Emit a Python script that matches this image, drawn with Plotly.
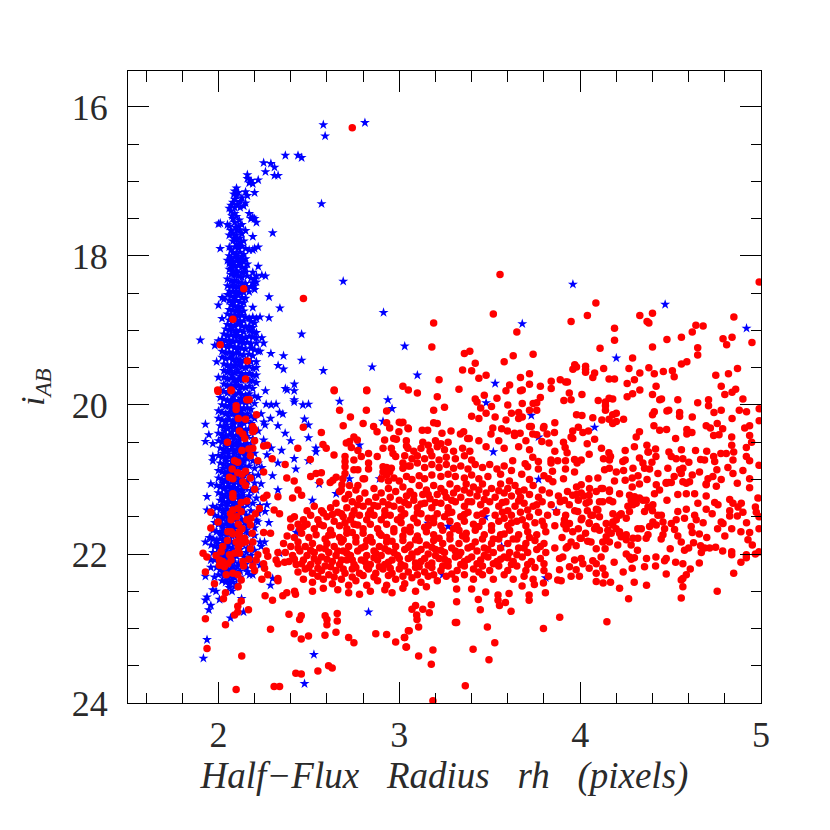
"""Half-flux radius vs i magnitude: stellar locus (blue stars) and galaxies (red dots)."""

import plotly.graph_objects as go

# ── Values, as (rh, i_AB) ─────────────────────────────────────────────────────

stars_sparse = [
    (2.58,16.24),(2.59,16.39),(2.81,16.21),(2.37,16.65),(2.44,16.65),(2.46,16.68),(2.25,16.75),(2.29,16.76),
    (2.31,16.81),(2.26,16.87),(2.31,16.92),(2.33,16.92),(2.57,17.30),(2.30,17.69),(2.22,17.88),(2.22,18.14),
    (2.26,18.27),(2.69,18.34),(2.28,18.55),(2.02,18.56),(2.00,18.66),(2.19,18.69),(2.34,18.70),(2.02,18.84),
    (2.23,18.82),(2.28,18.83),(2.46,19.05),(1.90,19.13),(2.00,19.14),(1.98,19.20),(2.24,19.10),(2.25,19.17),
    (2.23,19.28),(2.29,19.31),(2.36,19.34),(2.46,19.40),(1.99,19.42),(2.33,19.47),(2.36,19.52),(2.58,19.54),
    (2.00,19.63),(2.42,19.72),(2.37,19.78),(1.928,20.26),(1.947,20.40),(1.928,20.49),(1.969,20.52),(1.969,20.69),
    (1.969,20.75),(1.958,21.06),(1.937,21.23),(1.969,21.36),(1.937,21.41),(1.928,21.84),(1.958,21.79),(1.958,22.08),
    (1.958,22.18),(1.928,22.30),(1.978,22.31),(2.02,22.36),(1.969,22.48),(1.987,22.50),(1.937,22.58),(1.928,22.62),
    (2.006,22.61),(1.958,22.69),(1.947,22.75),(2.067,22.86),(2.139,22.78),(2.128,22.60),(1.937,23.15),(1.917,23.40),
    (2.528,23.35),(2.476,23.74),(2.83,22.78),(2.26,19.81),(2.38,19.80),(2.419,19.81),(2.419,19.93),(2.419,19.96),
    (2.264,19.99),(2.292,20.00),(2.319,19.99),(2.467,20.00),(2.498,19.99),(2.67,19.95),(2.937,19.93),(2.96,20.05),
    (2.338,20.10),(2.356,20.12),(2.236,20.12),(2.288,20.18),(2.476,20.19),(2.251,20.23),(2.258,20.27),(2.329,20.28),
    (2.498,20.27),(2.369,20.38),(2.498,20.44),(2.399,20.48),(2.25,20.47),(2.292,20.58),(2.349,20.61),(2.539,20.58),
    (2.539,20.63),(2.268,20.67),(2.329,20.78),(2.419,20.72),(2.498,20.75),(2.428,20.86),(2.299,20.95),(2.236,21.06),
    (2.329,21.14),(2.519,21.28),(2.651,21.19),(2.557,21.06),(2.268,21.34),(2.258,21.43),(2.218,21.57),(2.279,21.58),
    (2.43,21.71),(2.255,21.84),(2.236,21.90),(2.338,21.99),(2.288,22.42),(2.30,22.33),(2.19,22.28),(2.172,22.28),
    (2.91,20.22),(2.78,20.54),(2.891,20.99),(2.725,20.99),(3.03,19.21),(3.10,19.60),(3.68,18.91),(3.96,18.38),
    (4.47,18.65),(4.92,18.97),(4.20,19.37),(3.53,19.71),(3.48,19.97),(3.73,20.14),(4.08,20.30),(3.77,20.43),
    (3.52,20.63),(3.77,21.00),(3.16,21.59),(3.27,21.63),(3.476,21.50),(3.867,21.42),(3.566,21.90),(3.24,22.28),
    (3.81,22.32),(2.913,18.76),(2.85,19.49),
]

stars_locus_bright = [
    (2.16,16.91),(2.16,16.96),(2.17,17.02),(2.19,17.03),(2.18,16.99),(2.22,16.98),(2.10,17.09),(2.09,17.13),
    (2.11,17.15),(2.10,17.19),(2.09,17.24),(2.08,17.28),(2.15,17.14),(2.20,17.15),(2.16,17.19),(2.13,17.22),
    (2.12,17.27),(2.15,17.29),(2.06,17.36),(2.07,17.32),(2.09,17.35),(2.12,17.35),(2.14,17.33),(2.07,17.40),
    (2.09,17.43),(2.10,17.47),(2.08,17.50),(2.17,17.43),(2.18,17.50),(2.20,17.50),(2.21,17.55),(2.19,17.48),
    (2.00,17.57),(2.01,17.56),(2.05,17.58),(2.06,17.60),(2.09,17.55),(2.11,17.60),(2.13,17.58),(2.10,17.65),
    (2.12,17.65),(2.07,17.66),(2.06,17.72),(2.08,17.70),(2.10,17.72),(2.13,17.70),(2.15,17.66),(2.19,17.74),
    (2.10,17.78),(2.12,17.76),(2.08,17.80),(2.10,17.84),(2.12,17.82),(2.14,17.80),(2.01,17.90),(2.06,17.88),
    (2.07,17.92),(2.09,17.88),(2.11,17.90),(2.13,17.87),(2.15,17.90),(2.17,17.92),(2.19,17.92),(2.20,17.90),
    (2.08,17.95),(2.10,17.97),(2.12,17.95),(2.14,17.98),(2.06,18.00),(2.07,18.04),(2.09,18.02),(2.11,18.03),
    (2.13,18.01),(2.15,18.04),(2.05,18.06),(2.06,18.10),(2.08,18.08),(2.10,18.07),(2.12,18.09),(2.14,18.08),
    (2.16,18.11),(2.07,18.13),(2.09,18.14),(2.11,18.13),(2.13,18.15),(2.15,18.16),(2.06,18.18),(2.08,18.20),
    (2.10,18.20),(2.13,18.22),(2.15,18.22),(2.19,18.22),(2.21,18.27),(2.24,18.26),(2.07,18.25),(2.09,18.26),
    (2.11,18.27),(2.13,18.29),(2.16,18.27),(2.18,18.30),(2.20,18.31),(2.05,18.31),(2.07,18.34),(2.09,18.33),
    (2.11,18.35),(2.13,18.36),(2.15,18.37),(2.19,18.36),(2.21,18.35),(2.05,18.40),(2.07,18.41),(2.09,18.42),
    (2.11,18.41),(2.13,18.43),(2.16,18.43),(2.18,18.41),(2.20,18.40),(2.06,18.47),(2.08,18.48),(2.10,18.47),
    (2.12,18.49),(2.14,18.49),(2.17,18.48),(2.20,18.45),(2.05,18.52),(2.07,18.54),(2.09,18.55),(2.11,18.53),
    (2.13,18.56),(2.15,18.57),(2.03,18.58),(2.06,18.60),(2.08,18.61),(2.10,18.60),(2.12,18.62),(2.14,18.63),
]

stars_locus_mid = [
    (2.07,18.66),(2.09,18.67),(2.11,18.68),(2.13,18.69),(2.06,18.72),(2.08,18.73),(2.10,18.74),(2.12,18.75),
    (2.14,18.74),(2.05,18.78),(2.07,18.80),(2.09,18.79),(2.11,18.81),(2.13,18.80),(2.15,18.82),(2.17,18.84),
    (2.19,18.82),(2.21,18.84),(2.06,18.86),(2.08,18.87),(2.10,18.86),(2.12,18.88),(2.14,18.87),(2.18,18.88),
    (2.20,18.90),(2.05,18.92),(2.07,18.93),(2.09,18.94),(2.11,18.92),(2.13,18.94),(2.15,18.95),(2.17,18.94),
    (2.19,18.96),(2.04,18.98),(2.06,19.00),(2.08,18.99),(2.10,19.01),(2.12,19.00),(2.14,19.02),(2.17,19.00),
    (2.19,19.02),(2.21,19.03),(2.03,19.05),(2.05,19.07),(2.07,19.06),(2.09,19.08),(2.11,19.07),(2.13,19.09),
    (2.15,19.10),(2.17,19.08),(2.19,19.09),(2.21,19.10),(2.02,19.12),(2.04,19.14),(2.06,19.13),(2.08,19.15),
    (2.10,19.14),(2.12,19.16),(2.14,19.17),(2.16,19.16),(2.18,19.18),(2.21,19.17),(2.03,19.20),(2.05,19.22),
    (2.07,19.21),(2.09,19.23),(2.11,19.22),(2.13,19.24),(2.15,19.25),(2.18,19.24),(2.20,19.26),(2.22,19.28),
    (2.02,19.28),(2.04,19.30),(2.06,19.29),(2.08,19.31),(2.10,19.30),(2.12,19.32),(2.14,19.33),(2.17,19.32),
    (2.19,19.34),(2.02,19.36),(2.04,19.38),(2.06,19.37),(2.08,19.39),(2.10,19.38),(2.12,19.40),(2.14,19.41),
    (2.16,19.39),(2.18,19.42),(2.21,19.42),(2.03,19.45),(2.05,19.47),(2.07,19.46),(2.09,19.48),(2.11,19.47),
    (2.13,19.49),(2.15,19.50),(2.17,19.48),(2.19,19.51),(2.21,19.50),(2.03,19.54),(2.05,19.56),(2.07,19.55),
    (2.09,19.57),(2.11,19.56),(2.13,19.58),(2.15,19.59),(2.17,19.58),(2.19,19.60),(2.21,19.60),(2.03,19.63),
    (2.05,19.65),(2.07,19.64),(2.09,19.66),(2.11,19.65),(2.13,19.67),(2.17,19.67),(2.19,19.68),(2.21,19.70),
    (2.03,19.72),(2.05,19.74),(2.07,19.73),(2.09,19.75),(2.11,19.74),(2.13,19.76),(2.15,19.77),(2.17,19.75),
    (2.19,19.78),(2.01,19.80),(2.03,19.82),(2.05,19.84),(2.07,19.83),(2.09,19.85),(2.11,19.84),(2.13,19.86),
    (2.15,19.87),(2.17,19.85),(2.20,19.88),(2.22,19.90),(2.01,19.90),(2.03,19.92),(2.05,19.94),(2.07,19.93),
    (2.09,19.95),(2.11,19.94),(2.13,19.96),(2.15,19.97),(2.17,19.96),(2.20,19.98),(2.02,20.00),(2.04,20.02),
    (2.06,20.01),(2.08,20.03),(2.10,20.02),(2.12,20.04),(2.14,20.05),(2.16,20.04),(2.18,20.06),(2.00,20.08),
    (2.02,20.10),(2.04,20.12),(2.06,20.10),(2.08,20.12),(2.10,20.11),(2.12,20.13),(2.14,20.14),(2.16,20.12),
    (2.18,20.15),(2.20,20.18),(2.00,20.18),(2.02,20.20),(2.04,20.22),(2.06,20.20),(2.08,20.22),(2.10,20.21),
    (2.12,20.23),(2.14,20.24),(2.16,20.22),(2.18,20.25),(2.01,20.28),(2.03,20.30),(2.05,20.32),(2.07,20.30),
    (2.09,20.32),(2.11,20.31),(2.13,20.33),(2.15,20.34),(2.17,20.32),(2.22,20.35),(2.00,20.38),(2.02,20.40),
]

stars_locus_faint = [
    (2.04,20.42),(2.06,20.40),(2.08,20.42),(2.10,20.41),(2.12,20.43),(2.14,20.44),(2.16,20.42),(2.19,20.45),
    (2.00,20.48),(2.02,20.50),(2.04,20.52),(2.06,20.50),(2.08,20.52),(2.10,20.51),(2.12,20.53),(2.14,20.54),
    (2.16,20.52),(2.18,20.55),(2.01,20.58),(2.03,20.60),(2.05,20.62),(2.07,20.60),(2.09,20.62),(2.11,20.61),
    (2.13,20.63),(2.15,20.64),(2.17,20.62),(2.20,20.65),(2.00,20.68),(2.02,20.70),(2.04,20.72),(2.06,20.70),
    (2.08,20.72),(2.10,20.71),(2.12,20.73),(2.14,20.74),(2.16,20.72),(2.19,20.75),(2.22,20.78),(2.01,20.78),
    (2.03,20.80),(2.05,20.82),(2.07,20.80),(2.09,20.82),(2.11,20.81),(2.13,20.83),(2.15,20.84),(2.17,20.82),
    (2.20,20.85),(2.24,20.84),(2.00,20.88),(2.02,20.90),(2.04,20.92),(2.06,20.90),(2.08,20.92),(2.10,20.91),
    (2.12,20.93),(2.14,20.94),(2.16,20.92),(2.19,20.95),(2.22,20.94),(2.00,20.98),(2.02,21.00),(2.04,21.02),
    (2.06,21.00),(2.08,21.02),(2.10,21.01),(2.12,21.03),(2.14,21.04),(2.16,21.02),(2.20,21.05),(1.99,21.08),
    (2.01,21.10),(2.03,21.12),(2.05,21.10),(2.07,21.12),(2.09,21.11),(2.11,21.13),(2.13,21.14),(2.15,21.12),
    (2.18,21.15),(2.21,21.14),(2.00,21.18),(2.02,21.20),(2.04,21.22),(2.06,21.20),(2.08,21.22),(2.10,21.21),
    (2.12,21.23),(2.14,21.24),(2.17,21.22),(2.21,21.25),(2.01,21.28),(2.03,21.30),(2.05,21.32),(2.07,21.30),
    (2.09,21.32),(2.11,21.31),(2.13,21.33),(2.16,21.34),(2.19,21.32),(2.23,21.35),(1.99,21.38),(2.01,21.40),
    (2.03,21.42),(2.05,21.40),(2.07,21.42),(2.09,21.41),(2.11,21.43),(2.14,21.44),(2.18,21.42),(2.22,21.45),
    (1.98,21.48),(2.00,21.50),(2.02,21.52),(2.04,21.50),(2.06,21.52),(2.08,21.51),(2.10,21.53),(2.13,21.54),
    (2.17,21.52),(2.21,21.55),(1.98,21.58),(2.00,21.60),(2.02,21.62),(2.04,21.60),(2.06,21.62),(2.08,21.61),
    (2.10,21.63),(2.13,21.64),(2.16,21.62),(2.20,21.65),(1.97,21.68),(1.99,21.70),(2.01,21.72),(2.03,21.70),
    (2.05,21.72),(2.07,21.71),(2.09,21.73),(2.12,21.74),(2.16,21.72),(2.20,21.75),(1.95,21.78),(1.97,21.80),
    (1.99,21.82),(2.01,21.80),(2.03,21.82),(2.05,21.81),(2.07,21.83),(2.10,21.84),(2.14,21.82),(2.18,21.85),
    (2.23,21.84),(1.96,21.88),(1.98,21.90),(2.00,21.92),(2.02,21.90),(2.04,21.92),(2.06,21.91),(2.08,21.93),
    (2.12,21.94),(2.16,21.92),(2.20,21.95),(1.97,21.98),(1.99,22.00),(2.01,22.02),(2.03,22.00),(2.05,22.02),
    (2.07,22.01),(2.10,22.03),(2.14,22.04),(2.18,22.02),(1.98,22.08),(2.00,22.10),(2.02,22.12),(2.04,22.10),
    (2.06,22.12),(2.08,22.11),(2.11,22.13),(2.15,22.14),(2.19,22.12),(2.23,22.15),(1.99,22.18),(2.01,22.20),
    (2.03,22.22),(2.05,22.20),(2.07,22.22),(2.09,22.21),(2.12,22.23),(2.16,22.24),(2.00,22.28),(2.03,22.30),
    (2.05,22.32),(2.07,22.30),(2.09,22.32),(2.12,22.31),(2.04,22.38),(2.06,22.40),(2.08,22.38),(2.10,22.41),
]

stars_locus_fill = [
    (2.085,17.17),(2.105,17.31),(2.075,17.46),(2.115,17.52),(2.095,17.62),(2.085,17.76),(2.115,17.86),(2.095,17.99),
    (2.125,18.06),(2.075,18.17),(2.105,18.23),(2.085,18.36),(2.125,18.45),(2.095,18.51),(2.075,18.63),(2.105,18.71),
    (2.085,18.83),(2.115,18.90),(2.075,18.96),(2.095,19.04),(2.125,19.12),(2.065,19.18),(2.105,19.26),(2.075,19.34),
    (2.095,19.43),(2.125,19.44),(2.065,19.51),(2.105,19.53),(2.075,19.60),(2.125,19.62),(2.095,19.70),(2.065,19.78),
    (2.115,19.80),(2.085,19.89),(2.125,19.91),(2.065,19.97),(2.105,19.99),(2.075,20.06),(2.125,20.08),(2.095,20.16),
    (2.055,20.15),(2.115,20.18),(2.085,20.26),(2.045,20.27),(2.125,20.28),(2.075,20.36),(2.105,20.36),(2.035,20.35),
    (2.145,20.38),(2.085,20.46),(2.055,20.46),(2.115,20.47),(2.025,20.45),(2.075,20.56),(2.105,20.56),(2.045,20.56),
    (2.135,20.58),(2.085,20.66),(2.055,20.66),(2.115,20.67),(2.025,20.65),(2.145,20.68),(2.075,20.76),(2.105,20.76),
    (2.045,20.76),(2.135,20.78),(2.085,20.86),(2.055,20.86),(2.115,20.87),(2.025,20.85),(2.145,20.88),(2.075,20.96),
    (2.105,20.96),(2.045,20.96),(2.135,20.98),(2.085,21.06),(2.055,21.06),(2.115,21.07),(2.025,21.05),(2.145,21.08),
    (2.075,21.16),(2.105,21.16),(2.045,21.16),(2.135,21.18),(2.085,21.26),(2.055,21.26),(2.115,21.27),(2.025,21.25),
    (2.145,21.28),(2.075,21.36),(2.105,21.36),(2.045,21.36),(2.015,21.35),(2.135,21.38),(2.085,21.46),(2.055,21.46),
    (2.115,21.47),(2.025,21.45),(2.155,21.48),(2.075,21.56),(2.045,21.56),(2.105,21.57),(2.015,21.55),(2.145,21.58),
    (2.085,21.66),(2.055,21.66),(2.025,21.65),(2.115,21.67),(2.155,21.68),(2.075,21.76),(2.045,21.76),(2.015,21.75),
    (2.105,21.78),(2.145,21.79),(2.085,21.87),(2.055,21.87),(2.025,21.86),(1.995,21.86),(2.135,21.88),(2.075,21.96),
    (2.045,21.97),(2.015,21.96),(2.105,21.98),(2.155,21.98),(2.085,22.06),(2.055,22.06),(2.025,22.05),(1.995,22.05),
    (2.135,22.08),(2.075,22.16),(2.045,22.16),(2.015,22.15),(2.105,22.17),(2.155,22.19),(2.085,22.26),(2.055,22.26),
    (2.025,22.25),(2.11,22.27),(2.075,22.35),(2.045,22.35),(2.09,22.44),(2.06,22.45),(2.075,22.50),
]

galaxies_bright = [
    (3.557,18.25),(4.99,18.35),(4.087,18.63),(4.04,18.80),(3.95,18.88),(4.33,18.80),(4.40,18.77),(4.37,18.88),
    (4.38,18.90),(4.85,18.82),(3.52,18.78),(3.19,18.90),(4.19,18.97),(4.19,19.13),(4.64,18.93),(4.68,18.94),
    (4.62,19.02),(4.56,19.09),(4.48,19.12),(4.79,19.11),(4.84,19.09),(4.81,19.19),(4.95,19.16),(3.65,19.02),
    (3.18,19.22),(4.11,19.24),(4.40,19.22),(4.65,19.23),(4.65,19.33),(3.36,19.31),(3.39,19.28),(3.63,19.34),
    (3.74,19.32),(3.58,19.42),(3.42,19.44),(4.29,19.37),(4.56,19.45),(4.59,19.42),(3.97,19.46),(3.96,19.52),
    (3.98,19.49),(4.03,19.48),(4.03,19.52),(4.03,19.56),(4.13,19.51),(4.27,19.51),(4.38,19.50),(4.87,19.51),
    (3.35,19.53),(3.40,19.54),(3.48,19.60),(3.44,19.64),(3.72,19.58),(3.67,19.63),(4.08,19.57),(4.07,19.63),
    (4.33,19.57),(4.41,19.58),(4.46,19.55),(4.51,19.54),(4.52,19.62),(4.75,19.60),(4.82,19.58),(3.22,19.66),
    (4.16,19.65),(4.19,19.65),(4.30,19.66),(3.84,19.68),(3.89,19.66),(3.92,19.69),(3.93,19.69),(4.26,19.71),
    (3.61,19.73),(3.72,19.72),(3.78,19.75),(3.84,19.78),(4.42,19.75),(4.78,19.75),(4.86,19.79),(4.84,19.83),
    (3.02,19.75),(3.05,19.80),(3.10,19.84),(3.33,19.79),(3.59,19.81),(3.67,19.81),(3.68,19.80),(4.33,19.80),
    (3.94,19.84),(4.01,19.86),(4.29,19.85),(4.26,19.89),(4.40,19.86),(4.80,19.86),(4.90,19.92),(3.21,19.89),
    (3.47,19.87),(3.54,19.91),(3.78,19.90),(3.42,19.92),(3.43,19.96),(3.91,19.94),(3.95,19.93),(4.10,19.94),
    (4.16,19.91),(4.18,19.92),(4.14,19.96),(4.14,20.01),(4.14,20.07),(4.44,19.93),(4.45,19.92),(4.54,19.93),
    (4.71,19.93),(4.71,20.01),(4.65,19.97),(3.60,20.00),(3.68,19.98),(3.74,19.98),(3.76,19.97),(3.25,20.03),
    (3.51,20.02),(3.45,20.04),(3.19,20.07),(3.72,20.07),(3.76,20.07),(3.62,20.11),(3.66,20.10),(3.48,20.11),
    (3.40,20.15),(3.44,20.18),(3.53,20.16),(3.66,20.18),(3.68,20.16),(3.59,20.20),(4.41,20.09),(4.40,20.13),
    (4.48,20.08),(4.49,20.07),(4.55,20.10),(4.55,20.15),(4.74,20.10),(4.78,20.07),(4.88,20.07),(4.92,20.09),
    (4.99,20.05),(4.62,20.16),(4.84,20.18),(4.99,20.21),(3.98,20.13),(4.01,20.14),(4.07,20.17),(4.12,20.20),
    (4.20,20.11),(4.18,20.13),(4.16,20.19),(4.24,20.19),(4.20,20.22),(4.18,20.25),(3.86,20.24),(3.80,20.29),
    (3.72,20.29),(3.73,20.29),(3.02,20.23),(3.05,20.32),(3.19,20.24),(3.21,20.25),
    (2.74,16.28),(2.14,18.44),(2.47,18.57),(2.08,18.85),(2.01,19.19),(2.16,19.41),(2.15,19.65),(1.996,19.80),
    (2.07,19.80),(2.64,19.80),(2.82,19.80),
]

galaxies_locus = [
    (1.998,19.82),(2.07,19.81),(2.157,19.93),(2.17,19.93),(2.098,20.01),(2.098,20.06),(2.21,20.13),(2.11,20.18),
    (2.15,20.19),(2.19,20.29),(2.19,20.36),(2.20,20.33),(2.116,20.35),(2.135,20.39),(2.146,20.45),(2.20,20.48),
    (2.05,20.50),(2.13,20.61),(2.168,20.59),(2.19,20.58),(2.177,20.68),(2.25,20.55),(2.27,20.54),(2.218,20.75),
    (2.089,20.75),(2.107,20.77),(2.297,20.72),(2.369,20.80),(2.076,20.86),(2.25,20.90),(2.107,20.91),(2.131,20.93),
    (2.15,20.89),(2.061,20.97),(2.08,20.99),(2.177,20.98),(2.135,21.03),(2.15,21.08),(2.20,21.13),(2.08,21.19),
    (2.08,21.24),(2.378,20.98),(2.419,21.02),(2.44,21.14),(2.46,21.21),(2.329,21.23),(2.268,21.21),(2.25,21.25),
    (2.41,21.25),(2.157,21.29),(2.126,21.31),(2.107,21.39),(2.08,21.41),(2.067,21.46),(2.126,21.43),(2.227,21.39),
    (2.205,21.46),(2.308,21.41),(2.338,21.46),(1.958,21.44),(1.998,21.57),(2.07,21.54),(2.157,21.54),(2.177,21.61),
    (2.11,21.60),(1.958,21.65),(2.399,21.53),(2.44,21.60),(2.07,21.70),(2.052,21.70),(2.08,21.73),(2.116,21.70),
    (2.116,21.77),(2.144,21.79),(2.187,21.72),(2.25,21.71),(2.288,21.72),(2.05,21.82),(2.098,21.84),(2.126,21.86),
    (2.177,21.93),(2.024,21.90),(2.015,21.97),(1.915,21.99),(1.936,22.04),(1.987,22.02),(2.006,22.08),(2.061,22.01),
    (2.089,21.99),(2.116,21.99),(2.024,22.10),(2.052,22.13),(2.07,22.08),(2.006,22.15),(2.033,22.17),(2.135,22.10),
    (2.139,22.16),(2.168,22.07),(2.218,22.01),(2.209,22.08),(2.264,21.96),(2.273,22.03),(2.329,21.98),(2.19,22.16),
    (2.20,22.22),(2.25,22.13),(2.255,22.19),(2.273,22.28),(2.319,22.08),(2.329,22.13),(2.366,22.11),(1.928,22.24),
    (2.043,22.28),(2.08,22.26),(2.107,22.28),(2.126,22.35),(2.24,22.34),(2.329,22.33),(2.329,22.36),(1.978,22.40),
    (2.109,22.44),(2.039,22.52),(2.028,22.60),(2.258,22.56),(2.299,22.62),(2.356,22.56),(2.378,22.52),(2.421,22.50),
    (2.426,22.54),(2.126,22.63),(2.107,22.70),(2.166,22.75),(2.107,22.78),(2.089,22.82),(2.39,22.81),(2.458,22.83),
    (2.449,22.88),(1.928,22.87),(2.039,22.95),(2.288,23.01),(2.59,22.83),(2.60,22.88),(2.60,22.95),(2.657,22.80),
    (2.657,22.90),(2.419,23.07),(2.458,23.14),(2.498,23.10),(2.589,23.09),(2.65,23.05),(2.72,23.12),(2.749,23.19),
    (2.87,23.07),(2.93,23.08),(2.98,23.18),(3.03,23.12),(3.04,23.25),(3.05,23.03),(1.937,23.27),(2.129,23.37),
    (2.428,23.60),(2.458,23.61),(2.55,23.57),(2.609,23.50),(2.629,23.53),(2.098,23.82),(2.308,23.78),(2.338,23.78),
    (2.13,21.66),(2.10,21.50),(2.18,21.52),(2.15,21.84),(2.19,21.84),(2.11,21.91),
]

galaxies_upper_left = [
    (2.64,19.81),(2.82,19.81),(2.67,20.07),(2.818,20.07),(2.93,20.08),(2.73,20.16),(2.69,20.28),(2.80,20.25),
    (2.93,20.24),(3.00,20.23),(3.01,20.24),(2.469,20.30),(2.569,20.37),(2.858,20.29),(2.877,20.36),(2.947,20.31),
    (2.998,20.36),(3.048,20.31),(2.749,20.43),(2.725,20.49),(2.768,20.47),(2.707,20.51),(2.578,20.53),(2.596,20.58),
    (2.439,20.58),(2.639,20.67),(2.508,20.73),(2.919,20.47),(2.969,20.45),(2.984,20.46),(3.039,20.48),(2.735,20.57),
    (2.771,20.61),(2.79,20.69),(2.83,20.65),(2.91,20.58),(2.956,20.58),(3.048,20.58),(2.965,20.65),(2.98,20.69),
    (2.878,20.69),(2.70,20.69),(2.70,20.76),(2.70,20.83),(2.749,20.74),(2.83,20.78),(2.83,20.86),(3.02,20.85),
    (3.05,20.82),(2.91,20.83),(2.93,20.84),(2.956,20.85),(2.91,20.90),(2.93,20.94),(2.947,20.90),(2.749,20.87),
    (2.771,20.87),(2.54,20.92),(2.569,20.91),(2.51,20.96),(2.56,21.03),(2.70,20.92),(2.688,20.99),(2.651,20.97),
    (2.633,21.01),(2.618,21.04),(2.80,20.99),(2.808,20.99),(2.683,21.07),(2.679,21.14),(2.725,21.08),(2.771,21.08),
    (2.90,20.99),(2.94,21.02),(2.97,20.98),(3.00,21.02),(3.04,20.96),(3.07,21.00),(3.11,20.95),(3.14,20.99),
    (3.18,20.94),(3.23,20.96),(3.27,20.93),(3.31,20.96),(3.36,20.98),(3.40,20.94),(3.44,20.99),(3.49,20.96),
    (3.13,20.50),(3.16,20.54),(3.20,20.48),(3.23,20.52),(3.27,20.50),(3.04,20.55),(3.08,20.62),(3.12,20.58),
    (3.17,20.62),(3.21,20.56),(3.25,20.60),(3.30,20.62),(3.35,20.58),(3.39,20.62),(3.03,20.68),(3.07,20.72),
    (3.10,20.68),(3.14,20.72),(3.18,20.68),(3.22,20.74),(3.26,20.70),(3.31,20.72),(3.36,20.68),(3.40,20.74),
    (3.02,20.78),(3.06,20.82),(3.10,20.78),(3.14,20.84),(3.18,20.80),(3.22,20.84),(3.26,20.80),(3.30,20.85),
    (3.34,20.82),(3.38,20.86),(3.42,20.80),(3.46,20.84),(3.50,20.80),(3.54,20.86),(3.58,20.82),(3.62,20.88),
]

galaxies_upper_right = [
    (3.127,20.34),(3.157,20.34),(3.236,20.38),(3.286,20.35),(3.338,20.39),(3.356,20.36),(3.378,20.45),(3.387,20.45),
    (3.517,20.31),(3.507,20.39),(3.566,20.32),(3.598,20.35),(3.637,20.38),(3.668,20.38),(3.637,20.41),(3.738,20.39),
    (3.76,20.40),(3.797,20.31),(3.817,20.39),(3.858,20.37),(3.788,20.49),(3.828,20.51),(3.959,20.35),(3.95,20.43),
    (3.959,20.45),(3.99,20.30),(4.015,20.37),(4.046,20.35),(4.08,20.46),(4.039,20.52),(3.908,20.50),(3.917,20.57),
    (3.928,20.64),(4.328,20.36),(4.31,20.43),(4.369,20.54),(4.417,20.59),(4.378,20.63),(4.44,20.34),(4.408,20.28),
    (4.478,20.33),(4.528,20.45),(4.59,20.33),(4.59,20.39),(4.618,20.37),(4.697,20.28),(4.72,20.31),(4.758,20.25),
    (4.788,20.32),(4.738,20.41),(4.768,20.40),(4.838,20.43),(4.838,20.54),(4.91,20.31),(4.937,20.28),(4.937,20.41),
    (4.948,20.50),(4.919,20.57),(4.849,20.63),(4.808,20.65),(4.778,20.65),(4.638,20.61),
    (4.118,20.58),(4.159,20.64),(4.249,20.61),(4.168,20.69),(4.129,20.72),(4.249,20.74),(4.236,20.76),(4.328,20.71),
    (4.375,20.63),(4.347,20.78),(4.397,20.77),(4.419,20.69),(4.491,20.63),(4.504,20.69),(4.531,20.72),(4.568,20.72),
    (4.601,20.77),(4.666,20.73),(4.688,20.74),(4.738,20.69),(4.744,20.76),(4.845,20.74),(4.919,20.69),(4.937,20.75),
    (4.989,20.81),(4.568,20.85),(4.559,20.92),(4.55,20.87),(4.485,20.85),(4.43,20.92),(4.384,20.86),(4.356,20.85),
    (4.292,20.85),(4.288,20.98),(4.19,21.02),(4.249,21.01),(4.098,20.98),(4.162,20.85),(4.135,20.87),(4.162,20.74),
    (4.048,20.99),(3.969,20.90),(3.983,20.78),(4.006,20.74),(3.919,20.86),(3.876,20.75),(3.919,20.75),(3.969,20.73),
    (3.839,20.74),(3.839,20.78),(3.847,20.89),(3.769,20.86),(3.769,20.76),(3.738,20.70),(3.696,20.79),(3.71,20.83),
    (3.627,20.75),(3.677,20.93),(3.609,21.02),(3.908,20.99),(3.826,20.99),(3.849,21.03),(4.66,20.90),(4.707,20.99),
    (4.734,20.96),(4.756,20.87),(4.817,20.84),(4.845,20.92),(4.869,21.05),(4.937,20.99),(4.937,21.11),(4.697,21.06),
    (4.605,21.03),(4.587,21.05),(4.49,21.04),(4.476,21.05),(4.421,21.07),(4.328,21.06),(4.288,21.10),(3.98,21.10),
]

galaxies_core_a = [
    (2.67,21.16),(2.72,21.20),
    (2.76,21.14),(2.81,21.18),(2.86,21.12),(2.90,21.18),(2.94,21.12),(2.98,21.16),(3.02,21.10),(3.06,21.16),
    (3.11,21.08),(3.15,21.14),(3.19,21.08),(3.23,21.12),(3.28,21.06),(3.32,21.12),(3.37,21.06),(3.41,21.10),
    (3.46,21.06),(3.51,21.12),(3.56,21.06),(3.60,21.12),(3.64,21.08),(3.69,21.14),(3.74,21.08),(3.79,21.14),
    (2.65,21.32),(2.70,21.26),(2.74,21.30),(2.78,21.26),
    (2.83,21.30),(2.87,21.24),(2.91,21.30),(2.95,21.24),(3.00,21.28),(3.04,21.22),(3.08,21.28),(3.13,21.20),
    (3.17,21.26),(3.21,21.20),(3.26,21.24),(3.30,21.18),(3.34,21.24),(3.39,21.18),(3.43,21.22),(3.48,21.18),
    (3.53,21.24),(3.58,21.18),(3.62,21.22),(3.67,21.24),(3.72,21.20),(3.77,21.24),(3.83,21.18),(3.88,21.22),
    (3.93,21.16),(3.98,21.20),(2.49,21.42),(2.53,21.36),(2.57,21.42),(2.62,21.38),(2.66,21.44),
    (2.71,21.38),(2.75,21.42),(2.80,21.36),(2.84,21.42),(2.88,21.36),(2.92,21.42),(2.97,21.36),(3.01,21.40),
    (3.05,21.34),(3.10,21.38),(3.14,21.32),(3.18,21.38),(3.23,21.32),(3.27,21.38),(3.31,21.30),(3.36,21.36),
    (3.40,21.30),(3.45,21.34),(3.50,21.30),(3.55,21.36),(3.59,21.30),(3.64,21.36),(3.69,21.32),(3.74,21.36),
    (3.79,21.30),(3.84,21.34),(3.89,21.30),(3.94,21.34),(3.99,21.28),(2.42,21.50),(2.47,21.54),(2.51,21.48),
    (2.55,21.54),(2.60,21.50),(2.64,21.56),(2.69,21.50),(2.73,21.54),(2.78,21.48),(2.82,21.54),(2.86,21.48),
    (2.90,21.54),(2.95,21.48),(2.99,21.54),(3.03,21.46),(3.08,21.52),(3.12,21.46),(3.16,21.52),(3.21,21.46),
    (3.25,21.50),(3.29,21.44),(3.34,21.50),(3.38,21.44),(3.43,21.48),(3.48,21.42),(3.53,21.48),(3.57,21.44),
    (3.62,21.48),(3.67,21.44),(3.72,21.50),(3.77,21.44),(3.82,21.48),(3.87,21.44),(3.92,21.48),(3.97,21.42),
    (2.40,21.64),(2.45,21.66),(2.49,21.60),(2.53,21.66),(2.58,21.62),(2.62,21.68),(2.67,21.62),(2.71,21.66),
    (2.75,21.60),(2.80,21.66),(2.84,21.60),(2.88,21.66),(2.93,21.60),(2.97,21.66),(3.01,21.58),(3.06,21.64),
    (3.10,21.58),(3.14,21.64),(3.19,21.58),(3.23,21.62),(3.28,21.56),(3.32,21.62),(3.36,21.56),(3.41,21.60),
    (3.46,21.56),(3.51,21.62),(3.55,21.56),(3.60,21.62),(3.65,21.56),(3.70,21.62),(3.75,21.58),(3.80,21.62),
]

galaxies_core_b = [
    (2.38,21.76),(2.42,21.78),(2.46,21.72),(2.50,21.78),(2.54,21.74),(2.59,21.80),(2.63,21.74),(2.67,21.78),
    (2.71,21.72),(2.76,21.78),(2.80,21.72),(2.84,21.78),(2.89,21.72),(2.93,21.78),(2.97,21.70),(3.02,21.76),
    (3.06,21.70),(3.10,21.76),(3.15,21.70),(3.19,21.74),(3.24,21.68),(3.28,21.74),(3.33,21.68),(3.37,21.72),
    (3.42,21.68),(3.47,21.74),(3.51,21.68),(3.56,21.74),(3.61,21.68),(3.66,21.74),(3.71,21.70),(3.76,21.74),
    (3.81,21.70),(3.86,21.62),(3.91,21.60),(2.36,21.86),(2.40,21.90),(2.44,21.84),(2.48,21.90),(2.52,21.86),
    (2.56,21.92),(2.60,21.86),(2.64,21.90),(2.68,21.84),(2.72,21.90),(2.76,21.84),(2.81,21.90),(2.85,21.84),
    (2.89,21.90),(2.93,21.84),(2.98,21.90),(3.02,21.82),(3.06,21.88),(3.11,21.82),(3.15,21.88),(3.19,21.82),
    (3.24,21.86),(3.28,21.80),(3.33,21.86),(3.37,21.80),(3.42,21.84),(3.46,21.80),(3.51,21.86),(3.55,21.80),
    (3.60,21.86),(3.65,21.80),(3.70,21.86),(3.75,21.82),(3.80,21.86),(2.37,21.98),(2.41,22.02),(2.45,21.96),
    (2.49,22.02),(2.53,21.98),(2.57,22.04),(2.61,21.98),(2.65,22.02),(2.69,21.96),(2.73,22.02),(2.77,21.96),
    (2.82,22.02),(2.86,21.96),(2.90,22.02),(2.94,21.96),(2.99,22.02),(3.03,21.94),(3.07,22.00),(3.12,21.94),
    (3.16,22.00),(3.20,21.94),(3.25,21.98),(3.29,21.92),(3.34,21.98),(3.38,21.92),(3.43,21.96),(3.47,21.92),
    (3.52,21.98),(3.56,21.92),(3.61,21.98),(3.66,21.92),(3.71,21.98),(3.76,21.94),(3.81,21.98),(3.86,21.92),
    (2.39,22.10),(2.43,22.14),(2.47,22.08),(2.51,22.14),(2.55,22.10),(2.59,22.16),(2.63,22.10),(2.67,22.14),
    (2.71,22.08),(2.75,22.14),(2.79,22.08),(2.84,22.14),(2.88,22.08),(2.92,22.14),(2.96,22.08),(3.01,22.14),
    (3.05,22.06),(3.09,22.12),(3.14,22.06),(3.18,22.12),(3.22,22.06),(3.27,22.10),(3.31,22.04),(3.36,22.10),
    (3.40,22.04),(3.45,22.08),(3.49,22.04),(3.54,22.10),(3.58,22.04),(3.63,22.10),(3.68,22.04),(3.73,22.10),
    (3.78,22.06),(2.44,22.24),(2.48,22.20),(2.52,22.26),(2.57,22.22),(2.61,22.28),(2.65,22.22),(2.70,22.26),
    (2.74,22.20),(2.78,22.26),(2.83,22.20),(2.87,22.26),(2.91,22.20),(2.96,22.26),(3.00,22.20),(3.05,22.24),
    (3.09,22.18),(3.14,22.24),(3.18,22.18),(3.23,22.22),(3.27,22.16),(3.32,22.22),(3.36,22.16),(3.41,22.20),
    (3.46,22.16),(3.50,22.22),(3.55,22.16),(3.60,22.22),(3.65,22.16),(3.70,22.22),(3.75,22.18),(3.80,22.22),
    (2.47,22.34),(2.52,22.38),(2.58,22.34),(2.63,22.40),(2.68,22.34),(2.72,22.42),(2.76,22.36),(2.82,22.42),
    (2.88,22.36),(2.93,22.42),(2.98,22.34),(3.03,22.40),(3.07,22.32),(3.12,22.38),(3.16,22.30),(3.21,22.36),
    (3.26,22.30),(3.31,22.34),(3.36,22.28),(3.41,22.34),(3.46,22.28),(3.52,22.34),(3.58,22.28),(3.63,22.34),
    (3.69,22.30),(3.74,22.34),(2.52,22.50),(2.58,22.46),(2.66,22.48),(2.72,22.52),(2.78,22.54),(2.84,22.50),
    (2.92,22.48),(2.96,22.52),(3.02,22.46),(3.09,22.50),(3.15,22.44),
]

galaxies_core_fill = [
    (2.63,21.47),(2.70,21.58),(2.77,21.61),(2.56,21.60),(2.47,21.63),(2.61,21.75),(2.69,21.81),(2.74,21.71),
    (2.82,21.82),(2.90,21.75),(2.96,21.83),(3.03,21.68),(3.09,21.81),(3.16,21.62),(3.22,21.79),(3.30,21.66),
    (3.35,21.76),(3.44,21.63),(3.52,21.80),(2.44,21.92),(2.51,21.95),(2.59,21.93),(2.66,21.96),(2.71,21.99),
    (2.79,21.92),(2.87,21.99),(2.92,21.93),(2.97,21.98),(3.05,21.91),(3.10,21.97),(3.18,21.91),(3.23,21.95),
    (3.31,21.96),(3.40,21.90),(3.49,21.94),(2.42,22.07),(2.46,22.13),(2.53,22.06),(2.60,22.07),(2.68,22.08),
    (2.74,22.08),(2.81,22.10),(2.86,22.05),(2.94,22.11),(3.00,22.06),(3.07,22.04),(3.12,22.10),(3.20,22.02),
    (3.25,22.07),(3.33,22.02),(3.38,22.07),(3.47,22.02),(3.56,22.07),(3.65,22.01),(2.50,22.18),(2.55,22.19),
    (2.62,22.17),(2.69,22.20),(2.76,22.18),(2.82,22.17),(2.89,22.17),(2.95,22.19),(3.03,22.16),(3.11,22.17),
    (3.16,22.15),(3.24,22.16),(3.34,22.14),(3.43,22.13),(3.52,22.13),(3.62,22.14),(2.55,22.30),(2.64,22.31),
    (2.74,22.31),(2.80,22.29),(2.86,22.31),(2.94,22.29),(3.02,22.30),(3.10,22.28),(3.19,22.28),(3.29,22.27),
    (3.44,22.24),(2.58,21.45),(2.68,21.46),(2.74,21.48),(2.83,21.47),(2.92,21.48),(3.01,21.50),(3.10,21.45),
    (3.19,21.52),(3.27,21.45),(3.36,21.47),(3.46,21.46),(3.58,21.52),(2.77,21.34),(2.86,21.35),(2.94,21.34),
    (3.03,21.31),(3.12,21.33),(3.20,21.31),(3.29,21.28),(3.38,21.30),(3.47,21.27),(3.57,21.31),(3.66,21.29),
    (3.08,21.21),(3.16,21.20),(3.25,21.17),(3.36,21.14),(3.44,21.14),(3.55,21.15),(3.66,21.16),(3.76,21.34),
    (3.71,21.41),(3.60,21.42),(3.68,21.54),(3.79,21.56),(3.62,21.58),(3.72,21.78),(3.63,21.80),(3.58,21.73),
    (3.69,21.92),(3.78,21.90),(3.60,22.05),(3.71,22.14),(3.80,22.13),
]

galaxies_right_faint = [
    (3.177,22.68),(3.09,22.69),(3.13,22.74),(3.166,22.79),(3.07,22.74),(3.096,22.82),(3.098,22.88),(3.107,22.98),
    (3.055,23.03),(3.028,23.12),(3.037,23.25),(3.107,23.37),(3.186,23.29),(3.177,23.48),(3.365,23.77),(3.186,23.97),
    (3.408,23.28),(3.528,23.19),(3.496,23.42),(3.31,22.92),(3.317,22.92),(3.487,22.98),(3.797,23.00),(3.887,22.85),
    (4.148,22.91),(3.317,22.64),(3.437,22.61),(3.448,22.75),(3.618,22.77),(3.546,22.55),(3.546,22.62),(3.554,22.69),
    (3.587,22.65),(3.607,22.53),(3.718,22.55),(3.718,22.62),(3.808,22.52),(3.40,22.47),(3.478,22.51),(3.317,22.47),
    (3.679,22.43),(3.747,22.41),(3.797,22.39),(4.218,22.46),(4.268,22.60),(4.367,22.42),(4.559,22.59),(4.568,22.44),
    (4.758,22.50),(4.849,22.26),(4.476,22.27),(4.299,22.38),(4.168,22.38),(4.127,22.39),(4.568,22.33),(4.587,22.28),
    (4.559,22.35),(4.238,22.24),(4.288,22.19),(4.356,22.17),(4.417,22.16),(4.609,22.20),(4.659,22.12),(4.889,22.11),
    (4.528,22.11),(4.568,22.13),(4.919,22.01),(4.919,22.05),(4.969,22.00),(4.989,21.97),(4.838,21.97),(4.838,22.01),
    (4.788,21.96),(4.666,21.89),(4.688,21.92),(4.716,21.92),(4.749,21.91),(4.67,21.98),(4.577,21.95),(4.498,21.93),
    (4.476,22.06),(4.467,22.09),(4.419,22.04),(4.367,22.06),(4.30,22.05),(4.273,22.04),(4.282,22.07),(4.255,22.00),
    (4.317,21.95),(4.188,22.11),(4.116,22.04),(4.07,22.09),(4.089,22.13),(4.138,21.93),(4.089,21.93),(3.978,21.89),
    (4.006,22.06),(4.015,22.13),(3.969,22.08),(3.941,22.17),(3.978,22.21),(3.996,22.30),(3.95,22.30),(4.05,22.19),
    (4.125,22.19),(4.138,22.28),(4.089,22.26),(4.089,22.37),(3.876,22.35),(3.895,22.36),(3.825,22.30),(3.886,22.21),
    (3.886,22.06),(3.904,22.04),(3.923,21.92),(3.932,21.90),(4.476,21.04),(4.504,21.04),(4.568,21.03),(4.697,21.07),
    (4.753,21.09),(4.633,21.19),(4.587,21.19),(4.697,21.22),(4.744,21.31),(4.762,21.34),(4.827,21.27),(4.845,21.32),
    (4.891,21.32),(4.873,21.37),(4.983,21.25),(4.969,21.37),(4.974,21.44),(4.989,21.50),(4.827,21.42),(4.827,21.49),
    (4.869,21.49),(4.78,21.57),(4.79,21.59),(4.838,21.66),(4.889,21.70),(4.80,21.76),(4.937,21.71),(4.928,21.81),
    (4.952,21.88),(4.989,21.66),(4.614,21.63),(4.62,21.71),(4.659,21.73),(4.627,21.85),(4.577,21.52),(4.633,21.48),
    (4.642,21.54),(4.587,21.40),(4.54,21.43),(4.651,21.32),(4.697,21.40),(4.531,21.54),(4.504,21.59),(4.458,21.57),
    (4.467,21.66),(4.522,21.67),(4.448,21.80),(4.458,21.74),(4.559,21.84),(4.402,21.57),(4.421,21.61),(4.384,21.63),
    (4.375,21.74),(4.365,21.79),(4.338,21.66),(4.319,21.66),(4.319,21.79),(4.292,21.79),(4.282,21.88),(4.255,21.74),
    (4.227,21.77),(4.199,21.66),(4.218,21.70),(4.208,21.88),(4.162,21.84),(4.181,21.57),(4.153,21.68),(4.144,21.77),
    (4.125,21.84),(4.328,21.25),(4.301,21.23),(4.282,21.28),(4.264,21.36),(4.365,21.28),(4.402,21.34),(4.411,21.19),
    (4.439,21.14),(4.356,21.43),(4.43,21.48),(4.449,21.48),(4.292,21.34),(4.227,21.46),(4.181,21.46),(4.144,21.59),
    (4.162,21.28),(4.125,21.30),(4.089,21.16),(4.125,21.12),(4.162,21.16),(4.05,21.30),(4.02,21.22),(4.09,21.40),
    (4.04,21.42),(4.07,21.48),(4.01,21.52),(4.05,21.58),(4.08,21.66),(4.03,21.72),(4.00,21.79),(4.06,21.84),
    (3.90,21.78),(3.95,21.84),(3.99,21.66),
]

galaxies_right_fill = [
    (4.006,21.18),(4.05,21.21),(4.18,21.30),(4.107,21.30),(4.033,21.32),(4.098,21.41),(4.06,21.48),(4.107,21.50),
    (3.987,21.43),(4.006,21.54),(4.05,21.59),(4.089,21.63),(4.107,21.68),(3.959,21.70),(4.006,21.79),(4.042,21.83),
    (3.941,21.59),(3.913,21.54),(3.923,21.66),(4.255,21.52),(4.218,21.48),(4.20,21.54),(4.273,21.43),(4.18,21.61),
    (4.172,21.72),(4.218,21.72),(4.255,21.81),(4.347,21.28),(4.375,21.37),(4.31,21.32),(4.273,21.21),(4.218,21.19),
    (4.162,21.14),(4.116,21.12),(4.052,21.12),(4.006,21.07),(3.959,21.21),(3.913,21.28),(4.20,20.90),(4.24,20.88),
    (4.32,20.95),(4.37,21.00),(4.52,20.96),(4.62,20.94),(4.78,21.00),(4.90,20.88),(4.70,20.62),(4.56,20.60),
    (4.30,20.56),(4.05,20.66),(3.86,20.62),(3.72,20.60),(3.66,20.56),(3.58,20.58),(3.48,20.56),(3.44,20.48),
    (3.55,20.48),(3.70,20.48),(3.80,20.95),(3.72,21.00),(3.56,20.93),(4.40,21.42),(4.48,21.28),(4.54,21.20),
    (4.73,21.46),(4.76,21.66),(4.70,21.78),(4.54,21.76),(4.60,21.92),(4.92,21.58),(4.90,21.44),(4.68,21.58),
]


def _split(*groups):
    """Flatten the (rh, mag) groups into separate x and y lists."""
    pairs = [p for group in groups for p in group]
    return [p[0] for p in pairs], [p[1] for p in pairs]


star_x, star_y = _split(stars_sparse, stars_locus_bright, stars_locus_mid, stars_locus_faint, stars_locus_fill)
gal_x, gal_y = _split(galaxies_bright, galaxies_locus, galaxies_upper_left, galaxies_upper_right,
                      galaxies_core_a, galaxies_core_b, galaxies_core_fill, galaxies_right_faint,
                      galaxies_right_fill)

FONT = "Liberation Serif"
INK = "#2a2a2a"

fig = go.Figure()
fig.add_trace(go.Scatter(
    x=star_x, y=star_y, mode="markers", name="stars",
    marker=dict(symbol="star", size=7.5, color="#0000ff", line=dict(width=0)),
))
fig.add_trace(go.Scatter(
    x=gal_x, y=gal_y, mode="markers", name="galaxies",
    marker=dict(symbol="circle", size=7.5, color="#ff0000", line=dict(width=0)),
))

axis_style = dict(
    showgrid=False, zeroline=False, showline=True, linecolor="black", linewidth=1,
    mirror="allticks", ticks="inside", ticklen=21, tickwidth=1, tickcolor="black",
    tickfont=dict(family=FONT, size=36, color=INK),
)

# the page keeps an 8 px body margin, so the plot box is placed 8 px up and left
fig.update_layout(
    width=830, height=830, autosize=False,
    paper_bgcolor="white", plot_bgcolor="white",
    showlegend=False,
    margin=dict(l=120, r=77, t=63, b=135),
    xaxis=dict(
        range=[1.5, 5], tick0=1, dtick=1, ticklabelstandoff=0,
        minor=dict(tick0=1, dtick=0.2, ticks="inside", ticklen=10.5, tickwidth=1, tickcolor="black"),
        title=dict(text="<i>Half−Flux\u00a0\u00a0\u00a0Radius\u00a0\u00a0\u00a0rh\u00a0\u00a0\u00a0(pixels)</i>", standoff=7,
                   font=dict(family=FONT, size=37, color=INK)),
        **axis_style,
    ),
    yaxis=dict(
        range=[24, 15.517], tick0=16, dtick=2, ticklabelstandoff=12,
        minor=dict(tick0=16, dtick=0.5, ticks="inside", ticklen=10.5, tickwidth=1, tickcolor="black"),
        title=dict(text="<i>i<sub>AB</sub></i>", standoff=17,
                   font=dict(family=FONT, size=33, color=INK)),
        **axis_style,
    ),
)

fig.write_html("out.html")
